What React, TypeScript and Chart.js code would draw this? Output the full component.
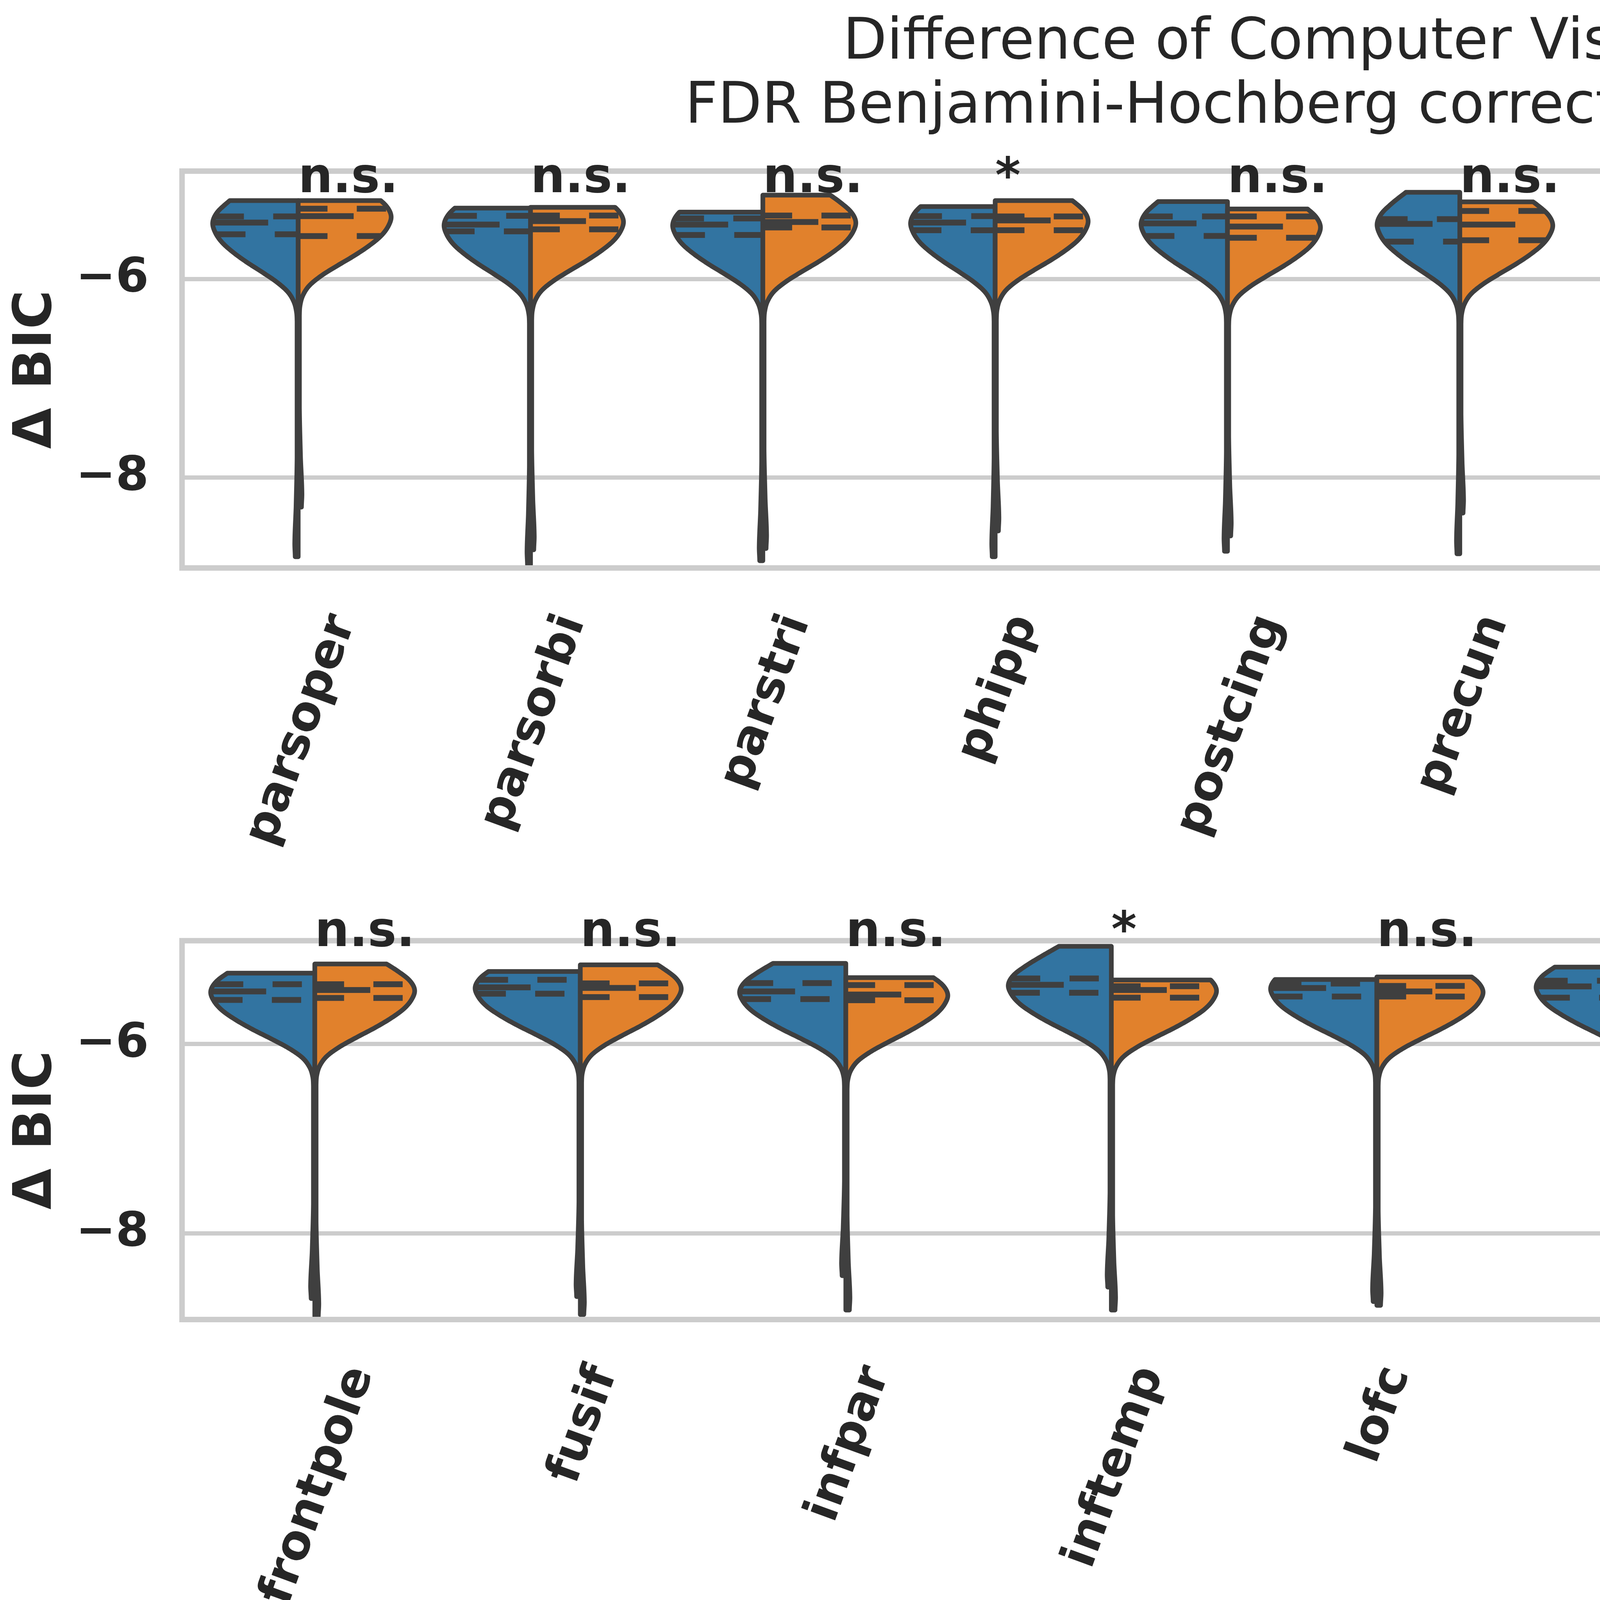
import { useEffect, useRef } from "react";
import { Chart, registerables, type Plugin } from "chart.js";

Chart.register(...registerables);

const FONT = '"DejaVu Sans", sans-serif';
const TEXT = "#262626";
const EDGE = "#3f3f3f";
const GRID = "#cccccc";
const SALLOW = "#3274a1";
const DEEP = "#e1812c";

const FIG_W = 7581;
const AREA_LEFT = 466;
const AREA_RIGHT = 5224;

const titleLines = [
  "Difference of Computer Vision and Word Embedding Model",
  "FDR Benjamini-Hochberg correction for multiple paired-sample t-tests",
];
const legendTitle = "Conditions";
const conditions = ["Sallow Processing", "Deep Processing"];
const yLabel = "Δ BIC";
const yTicks = [-8, -6];

// top row
const topCategories = ["parsoper", "parsorbi", "parstri", "phipp", "postcing", "precun", "sfrontal", "tempole"];
const topMarks = ["n.s.", "n.s.", "n.s.", "*", "n.s.", "n.s.", "n.s.", "n.s."];
const topYRange = [-8.913, -4.913];

const topSallowMax = [-5.21, -5.286, -5.326, -5.27, -5.22, -5.127, -5.202, -5.278];
const topSallowQ3 = [-5.37, -5.364, -5.39, -5.367, -5.37, -5.397, -5.383, -5.397];
const topSallowMedian = [-5.432, -5.452, -5.452, -5.432, -5.44, -5.445, -5.46, -5.437];
const topSallowQ1 = [-5.55, -5.52, -5.557, -5.509, -5.567, -5.624, -5.576, -5.515];
const topSallowMin = [-8.8, -8.88, -8.84, -8.8, -8.745, -8.77, -8.75, -8.8];
const topSallowPeak = [0.92, 0.93, 0.97, 0.91, 0.93, 0.89, 0.93, 1.0];

const topDeepMax = [-5.21, -5.278, -5.155, -5.21, -5.295, -5.223, -5.237, -5.202];
const topDeepQ3 = [-5.292, -5.361, -5.361, -5.37, -5.37, -5.315, -5.35, -5.34];
const topDeepMedian = [-5.367, -5.417, -5.426, -5.41, -5.472, -5.452, -5.41, -5.417];
const topDeepQ1 = [-5.568, -5.5, -5.481, -5.509, -5.585, -5.61, -5.55, -5.5];
const topDeepMin = [-8.3, -8.73, -8.717, -8.54, -8.59, -8.36, -8.47, -8.78];
const topDeepPeak = [1.0, 1.0, 1.0, 1.0, 1.0, 1.0, 0.99, 0.99];

// bottom row
const bottomCategories = ["frontpole", "fusif", "infpar", "inftemp", "lofc", "mofc", "mtemp"];
const bottomMarks = ["n.s.", "n.s.", "n.s.", "*", "n.s.", "n.s.", "n.s."];
const bottomYRange = [-8.91, -4.907];

const bottomSallowMax = [-5.25, -5.232, -5.147, -4.966, -5.317, -5.186, -5.088];
const bottomSallowQ3 = [-5.367, -5.32, -5.355, -5.306, -5.36, -5.33, -5.297];
const bottomSallowMedian = [-5.443, -5.4, -5.443, -5.373, -5.407, -5.39, -5.39];
const bottomSallowQ1 = [-5.533, -5.467, -5.524, -5.457, -5.497, -5.509, -5.54];
const bottomSallowMin = [-8.688, -8.667, -8.447, -8.567, -8.72, -8.72, -8.623];
const bottomSallowPeak = [0.98, 0.99, 1.0, 0.97, 1.0, 1.0, 0.97];

const bottomDeepMax = [-5.153, -5.162, -5.297, -5.322, -5.29, -5.201, -5.27];
const bottomDeepQ3 = [-5.367, -5.358, -5.376, -5.388, -5.385, -5.388, -5.39];
const bottomDeepMedian = [-5.428, -5.406, -5.476, -5.428, -5.443, -5.443, -5.476];
const bottomDeepQ1 = [-5.512, -5.503, -5.536, -5.509, -5.497, -5.53, -5.54];
const bottomDeepMin = [-8.876, -8.857, -8.81, -8.81, -8.76, -8.75, -8.82];
const bottomDeepPeak = [0.94, 0.95, 0.96, 0.99, 1.0, 1.0, 1.0];

// shared violin outline: half width (share of peak) vs distance from the median
const profileOffsets = [-1.0, -0.9, -0.8, -0.7, -0.6, -0.5, -0.4, -0.3, -0.2, -0.1, 0, 0.1, 0.2, 0.3, 0.4, 0.5, 0.6];
const profileWidths = [0.013, 0.02, 0.05, 0.12, 0.25, 0.42, 0.6, 0.76, 0.89, 0.97, 1.0, 0.95, 0.83, 0.68, 0.52, 0.36, 0.2];
// small bulge at the bottom of each tail: distance above the half's minimum
const tailOffsets = [0, 0.15, 0.5, 1.0];
const tailWidths = [0.035, 0.04, 0.025, 0.013];

type Half = {
  max: number[];
  q3: number[];
  median: number[];
  q1: number[];
  min: number[];
  peak: number[];
  color: string;
  side: number;
};

function smooth(xs: number[], ys: number[], x: number): number {
  if (x <= xs[0]) return ys[0];
  if (x >= xs[xs.length - 1]) return ys[ys.length - 1];
  let i = 0;
  while (x > xs[i + 1]) i++;
  const t = (x - xs[i]) / (xs[i + 1] - xs[i]);
  const p0 = ys[Math.max(i - 1, 0)];
  const p1 = ys[i];
  const p2 = ys[i + 1];
  const p3 = ys[Math.min(i + 2, ys.length - 1)];
  const t2 = t * t;
  const t3 = t2 * t;
  const v = 0.5 * (2 * p1 + (-p0 + p2) * t + (2 * p0 - 5 * p1 + 4 * p2 - p3) * t2 + (-p0 + 3 * p1 - 3 * p2 + p3) * t3);
  return Math.max(v, 0);
}

function halfWidth(h: Half, i: number, v: number): number {
  const body = smooth(profileOffsets, profileWidths, v - h.median[i]);
  const tail = smooth(tailOffsets, tailWidths, v - h.min[i]);
  return 0.4 * h.peak[i] * Math.max(body, tail);
}

function violinPlugin(categories: string[], marks: string[], halves: Half[]): Plugin {
  return {
    id: "violins",
    afterDatasetsDraw(chart) {
      const { ctx, chartArea: a } = chart;
      const xs = chart.scales.x;
      const ys = chart.scales.y;

      categories.forEach((_, i) => {
        const cx = xs.getPixelForValue(i);
        halves.forEach((h) => {
          const top = h.max[i];
          const bottom = h.min[i];
          const n = Math.ceil((top - bottom) / 0.005);
          const edge = (v: number) => xs.getPixelForValue(i + h.side * halfWidth(h, i, v));

          ctx.save();
          ctx.beginPath();
          ctx.moveTo(cx, ys.getPixelForValue(top));
          for (let k = 0; k <= n; k++) {
            const v = top - ((top - bottom) * k) / n;
            ctx.lineTo(edge(v), ys.getPixelForValue(v));
          }
          ctx.lineTo(cx, ys.getPixelForValue(bottom));
          ctx.closePath();
          ctx.fillStyle = h.color;
          ctx.fill();
          ctx.lineWidth = 12;
          ctx.lineJoin = "round";
          ctx.strokeStyle = EDGE;
          ctx.stroke();

          // quartile lines, dashed from the outer edge on the left and from the centre on the right
          ctx.lineCap = "butt";
          ctx.lineWidth = 15;
          [h.q3[i], h.median[i], h.q1[i]].forEach((q, k) => {
            const py = ys.getPixelForValue(q);
            const ex = edge(q);
            ctx.setLineDash(k === 1 ? [142, 142] : [75, 75]);
            ctx.beginPath();
            if (h.side < 0) {
              ctx.moveTo(ex, py);
              ctx.lineTo(cx, py);
            } else {
              ctx.moveTo(cx, py);
              ctx.lineTo(ex, py);
            }
            ctx.stroke();
          });
          ctx.restore();
        });
      });

      // frame
      ctx.save();
      ctx.strokeStyle = GRID;
      ctx.lineWidth = 14;
      ctx.strokeRect(a.left, a.top, a.right - a.left, a.bottom - a.top);
      ctx.restore();

      // significance marks sit on the highest value of the row
      const highest = Math.max(...halves.flatMap((h) => h.max));
      ctx.save();
      ctx.font = `bold 124px ${FONT}`;
      ctx.fillStyle = TEXT;
      ctx.textAlign = "left";
      ctx.textBaseline = "alphabetic";
      marks.forEach((m, i) => {
        ctx.fillText(m, xs.getPixelForValue(i), ys.getPixelForValue(highest));
      });
      ctx.restore();

      // rotated category labels
      const rot = (70 * Math.PI) / 180;
      const size = 122;
      ctx.save();
      ctx.font = `bold ${size}px ${FONT}`;
      ctx.fillStyle = TEXT;
      categories.forEach((label, i) => {
        const w = ctx.measureText(label).width;
        const bh = w * Math.sin(rot) + size * 1.164 * Math.cos(rot);
        ctx.save();
        ctx.translate(xs.getPixelForValue(i), a.bottom + 98 + bh / 2);
        ctx.rotate(-rot);
        ctx.textAlign = "center";
        ctx.textBaseline = "alphabetic";
        ctx.fillText(label, 0, 0.346 * size);
        ctx.restore();
      });
      ctx.restore();
    },
  };
}

function roundedRect(ctx: CanvasRenderingContext2D, x: number, y: number, w: number, h: number, r: number) {
  ctx.beginPath();
  ctx.moveTo(x + r, y);
  ctx.arcTo(x + w, y, x + w, y + h, r);
  ctx.arcTo(x + w, y + h, x, y + h, r);
  ctx.arcTo(x, y + h, x, y, r);
  ctx.arcTo(x, y, x + w, y, r);
  ctx.closePath();
}

const figurePlugin: Plugin = {
  id: "figure",
  afterDraw(chart) {
    const { ctx } = chart;
    ctx.save();
    ctx.fillStyle = TEXT;
    ctx.font = `146px ${FONT}`;
    ctx.textAlign = "center";
    ctx.textBaseline = "alphabetic";
    ctx.fillText(titleLines[0], 4306, 150);
    ctx.fillText(titleLines[1], 4306, 314);

    // legend
    roundedRect(ctx, 5857, 1156, 1687, 580, 30);
    ctx.fillStyle = "#ffffff";
    ctx.fill();
    ctx.strokeStyle = "#d6d6d6";
    ctx.lineWidth = 11;
    ctx.stroke();

    ctx.fillStyle = TEXT;
    ctx.font = `bold 122px ${FONT}`;
    ctx.fillText(legendTitle, 6700, 1301);

    const colors = [SALLOW, DEEP];
    const rows = [1389, 1568];
    conditions.forEach((c, k) => {
      ctx.fillStyle = colors[k];
      ctx.fillRect(5902, rows[k], 252, 94);
      ctx.strokeStyle = EDGE;
      ctx.lineWidth = 10;
      ctx.strokeRect(5902, rows[k], 252, 94);
      ctx.fillStyle = TEXT;
      ctx.textAlign = "left";
      ctx.fillText(c, 6248, rows[k] + 90);
    });
    ctx.restore();
  },
};

type PanelProps = {
  categories: string[];
  marks: string[];
  halves: Half[];
  yRange: number[];
  canvasTop: number;
  canvasHeight: number;
  areaTop: number;
  areaBottom: number;
  withFigure?: boolean;
};

function Panel(props: PanelProps) {
  const ref = useRef<HTMLCanvasElement | null>(null);
  const chartRef = useRef<Chart | null>(null);

  useEffect(() => {
    const el = ref.current;
    if (!el) return;
    chartRef.current?.destroy();

    const { categories, marks, halves, yRange, canvasHeight, areaTop, areaBottom, withFigure } = props;
    const plugins: Plugin[] = [violinPlugin(categories, marks, halves)];
    if (withFigure) plugins.push(figurePlugin);

    chartRef.current = new Chart(el, {
      type: "line",
      data: { labels: categories, datasets: [] },
      options: {
        animation: false,
        responsive: false,
        devicePixelRatio: 1,
        events: [],
        layout: { padding: { top: areaTop, right: FIG_W - AREA_RIGHT, bottom: 0, left: 0 } },
        plugins: { legend: { display: false }, tooltip: { enabled: false }, title: { display: false } },
        scales: {
          x: {
            type: "category",
            offset: true,
            grid: { display: false },
            border: { display: false },
            ticks: { display: false },
            afterFit: (s: any) => {
              s.height = canvasHeight - areaBottom;
            },
          },
          y: {
            type: "linear",
            min: yRange[0],
            max: yRange[1],
            grid: { color: GRID, lineWidth: 11, drawTicks: false },
            border: { display: false },
            afterBuildTicks: (s: any) => {
              s.ticks = yTicks.map((value) => ({ value }));
            },
            ticks: {
              padding: 85,
              color: TEXT,
              font: { family: FONT, size: 122, weight: "bold" },
              callback: (v: string | number) => String(v).replace("-", "\u2212"),
            },
            title: {
              display: true,
              text: yLabel,
              color: TEXT,
              font: { family: FONT, size: 136, weight: "bold" },
              padding: { top: 13, bottom: 0 },
            },
            afterFit: (s: any) => {
              s.width = AREA_LEFT;
            },
          },
        },
      },
      plugins,
    });

    return () => {
      chartRef.current?.destroy();
      chartRef.current = null;
    };
  }, []);

  return (
    <canvas
      ref={ref}
      width={FIG_W}
      height={props.canvasHeight}
      style={{ position: "absolute", left: 0, top: props.canvasTop, display: "block" }}
    />
  );
}

export default function App() {
  const topHalves: Half[] = [
    { max: topSallowMax, q3: topSallowQ3, median: topSallowMedian, q1: topSallowQ1, min: topSallowMin, peak: topSallowPeak, color: SALLOW, side: -1 },
    { max: topDeepMax, q3: topDeepQ3, median: topDeepMedian, q1: topDeepQ1, min: topDeepMin, peak: topDeepPeak, color: DEEP, side: 1 },
  ];
  const bottomHalves: Half[] = [
    { max: bottomSallowMax, q3: bottomSallowQ3, median: bottomSallowMedian, q1: bottomSallowQ1, min: bottomSallowMin, peak: bottomSallowPeak, color: SALLOW, side: -1 },
    { max: bottomDeepMax, q3: bottomDeepQ3, median: bottomDeepMedian, q1: bottomDeepQ1, min: bottomDeepMin, peak: bottomDeepPeak, color: DEEP, side: 1 },
  ];

  return (
    <div style={{ position: "absolute", left: 0, top: 0, width: FIG_W, height: 4146, background: "#ffffff", overflow: "hidden" }}>
      <Panel
        categories={topCategories}
        marks={topMarks}
        halves={topHalves}
        yRange={topYRange}
        canvasTop={0}
        canvasHeight={2250}
        areaTop={438}
        areaBottom={1454}
        withFigure
      />
      <Panel
        categories={bottomCategories}
        marks={bottomMarks}
        halves={bottomHalves}
        yRange={bottomYRange}
        canvasTop={2250}
        canvasHeight={1896}
        areaTop={113}
        areaBottom={1128}
      />
    </div>
  );
}
